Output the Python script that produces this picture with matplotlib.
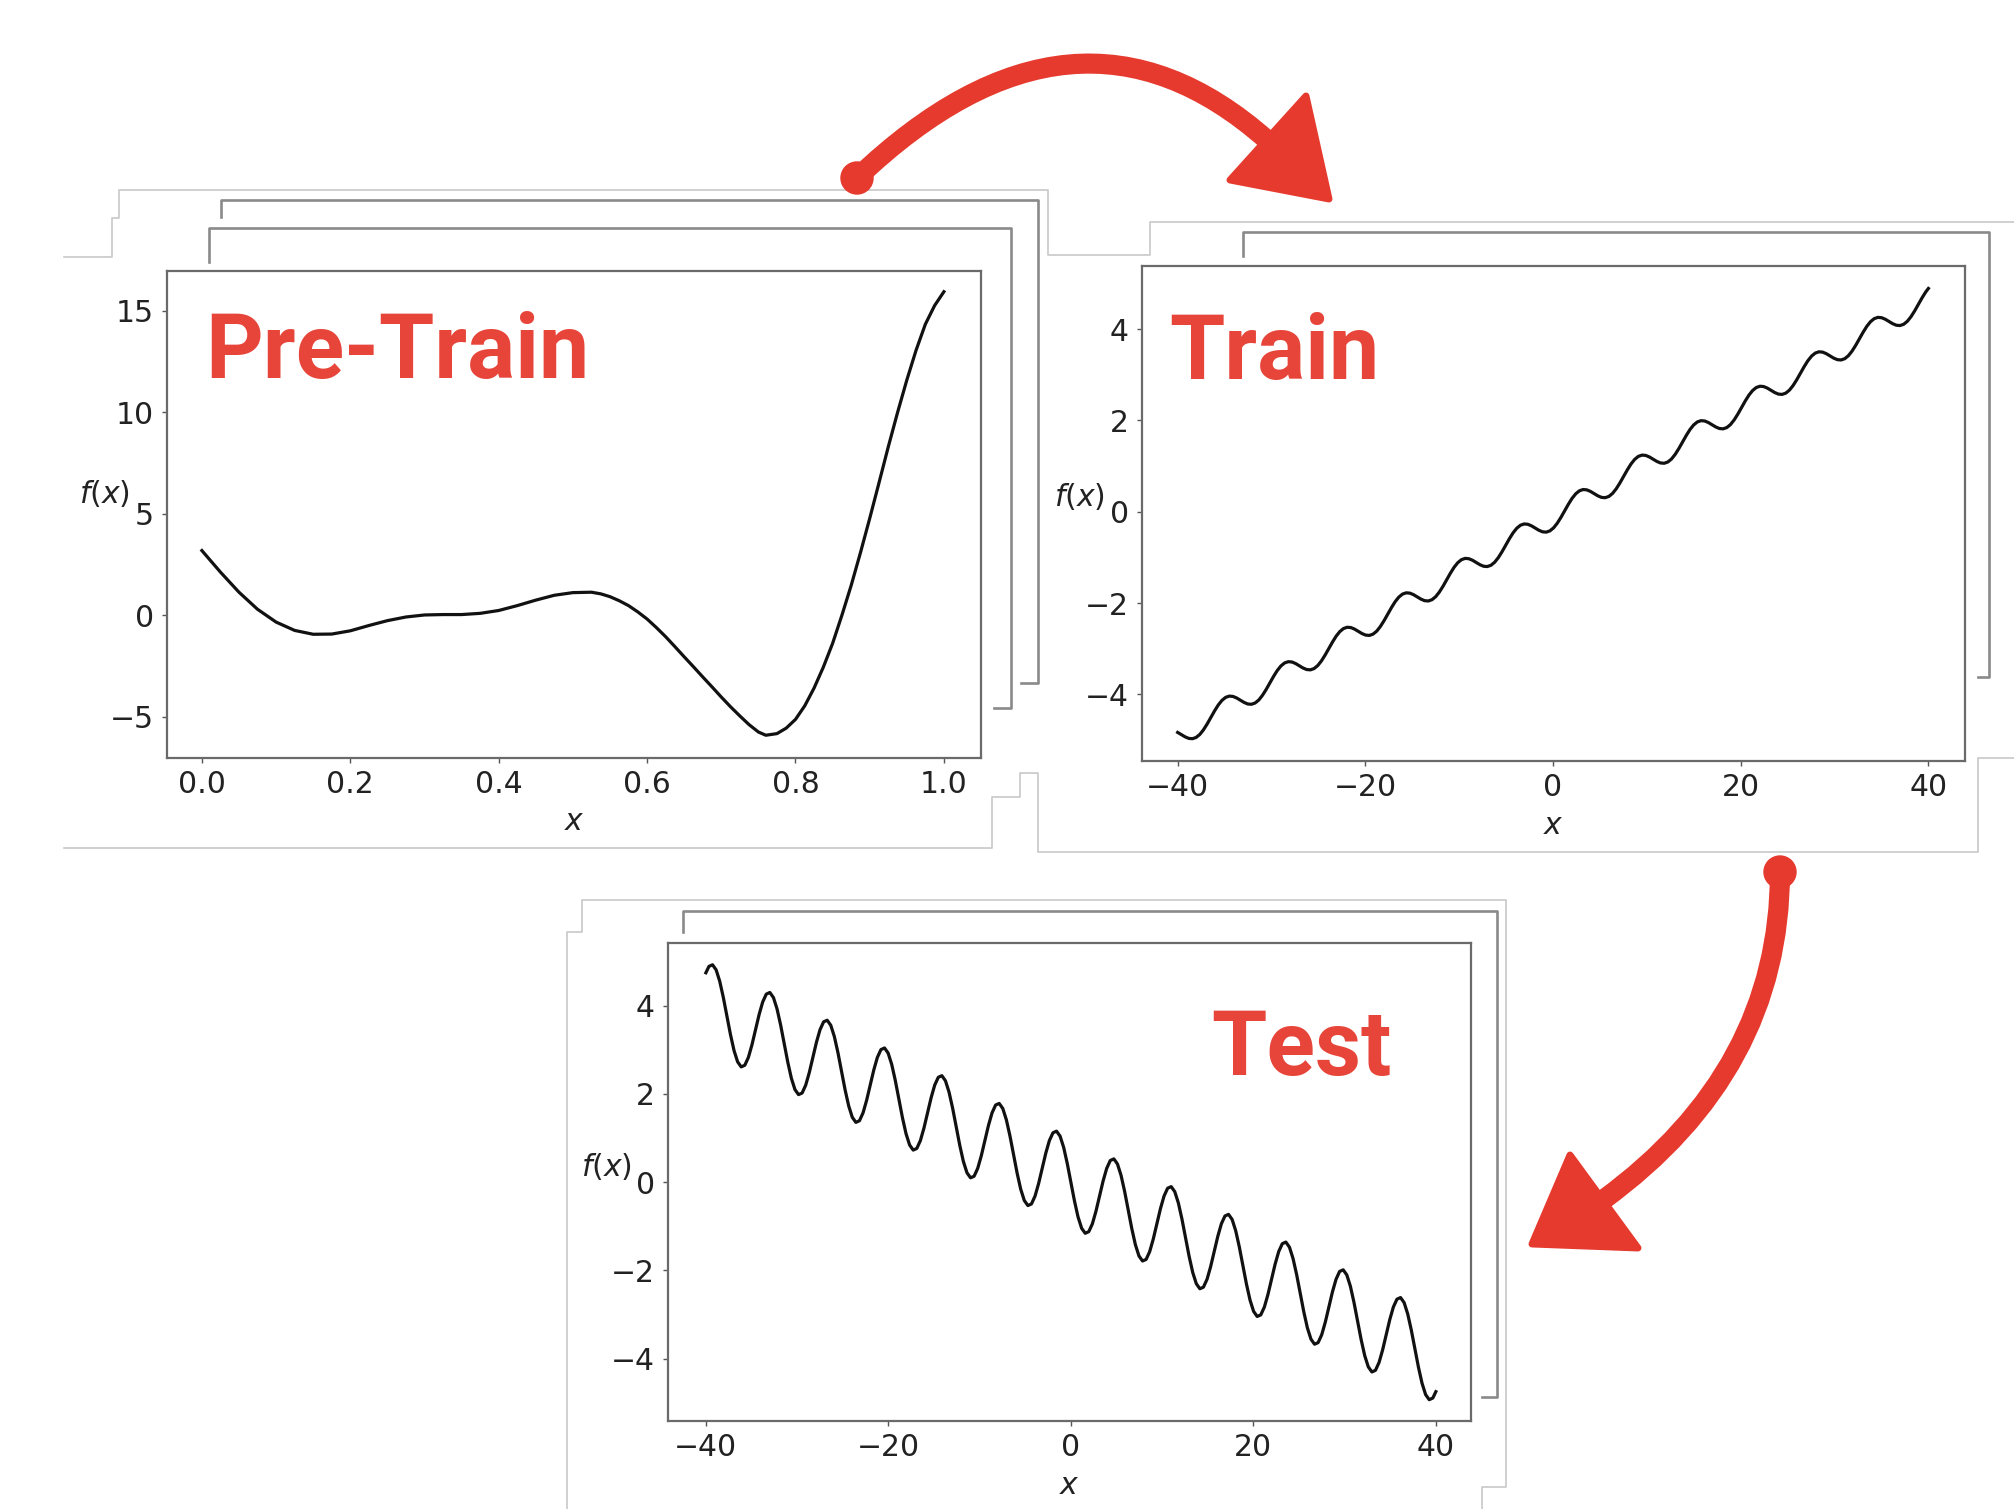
import matplotlib.pyplot as plt
from matplotlib.path import Path
from matplotlib.patches import PathPatch, Polygon, Circle

# キャンバス（ピクセル単位で配置を考える）
W, H = 2014, 1509
DPI = 100

# ---- データ ----
# Pre-Train
pre_x = [0.0, 0.025, 0.05, 0.075, 0.1, 0.125, 0.15, 0.175, 0.2, 0.225, 0.25, 0.275,
         0.3, 0.325, 0.35, 0.375, 0.4, 0.425, 0.45, 0.475, 0.5, 0.525, 0.5375, 0.55,
         0.5625, 0.575, 0.5875, 0.6, 0.6125, 0.625, 0.6375, 0.65, 0.6625, 0.675, 0.6875,
         0.7, 0.7125, 0.725, 0.7375, 0.75, 0.76, 0.775, 0.7875, 0.8, 0.8125, 0.825,
         0.8375, 0.85, 0.8625, 0.875, 0.8875, 0.9, 0.9125, 0.925, 0.9375, 0.95,
         0.9625, 0.975, 0.9875, 1.0]
pre_y = [3.19, 2.13, 1.14, 0.30, -0.33, -0.74, -0.93, -0.92, -0.76, -0.50, -0.26, -0.08,
         0.02, 0.04, 0.04, 0.10, 0.24, 0.48, 0.75, 0.99, 1.12, 1.14, 1.06, 0.92,
         0.72, 0.48, 0.17, -0.18, -0.60, -1.05, -1.54, -2.04, -2.53, -3.03, -3.52,
         -4.02, -4.50, -4.95, -5.38, -5.74, -5.90, -5.82, -5.55, -5.12, -4.45, -3.58,
         -2.55, -1.38, 0.0, 1.47, 3.08, 4.77, 6.52, 8.29, 9.98, 11.58,
         13.05, 14.33, 15.25, 15.93]

# Train
train_x = [-40.0, -39.602, -39.209, -38.817, -38.424, -38.032, -37.639, -37.246, -36.853, -36.461,
           -36.068, -35.675, -35.282, -34.890, -34.497, -34.105, -33.712, -33.319, -32.926, -32.534,
           -32.141, -31.748, -31.355, -30.963, -30.570, -30.178, -29.785, -29.392, -28.999, -28.607,
           -28.214, -27.821, -27.428, -27.036, -26.643, -26.251, -25.858, -25.465, -25.072, -24.680,
           -24.287, -23.894, -23.501, -23.109, -22.716, -22.324, -21.931, -21.538, -21.145, -20.753,
           -20.360, -19.967, -19.574, -19.182, -18.789, -18.397, -18.004, -17.611, -17.218, -16.826,
           -16.433, -16.040, -15.647, -15.255, -14.862, -14.470, -14.077, -13.684, -13.291, -12.899,
           -12.506, -12.113, -11.720, -11.328, -10.935, -10.543, -10.150, -9.757, -9.364, -8.972,
           -8.579, -8.186, -7.793, -7.401, -7.008, -6.616, -6.223, -5.830, -5.437, -5.045,
           -4.652, -4.259, -3.866, -3.474, -3.081, -2.689, -2.296, -1.903, -1.510, -1.118,
           -0.725, -0.332, 0.061, 0.453, 0.846, 1.238, 1.631, 2.024, 2.417, 2.809,
           3.202, 3.595, 3.988, 4.380, 4.773, 5.165, 5.558, 5.951, 6.344, 6.736,
           7.129, 7.522, 7.915, 8.307, 8.700, 9.092, 9.485, 9.878, 10.271, 10.663,
           11.056, 11.449, 11.842, 12.234, 12.627, 13.019, 13.412, 13.805, 14.198, 14.590,
           14.983, 15.376, 15.769, 16.161, 16.554, 16.946, 17.339, 17.732, 18.125, 18.517,
           18.910, 19.303, 19.696, 20.088, 20.481, 20.873, 21.266, 21.659, 22.052, 22.444,
           22.837, 23.230, 23.623, 24.015, 24.408, 24.800, 25.193, 25.586, 25.979, 26.371,
           26.764, 27.157, 27.550, 27.942, 28.335, 28.727, 29.120, 29.513, 29.906, 30.298,
           30.691, 31.084, 31.477, 31.869, 32.262, 32.654, 33.047, 33.440, 33.833, 34.225,
           34.618, 35.011, 35.404, 35.796, 36.189, 36.581, 36.974, 37.367, 37.760, 38.152,
           38.545, 38.938, 39.331, 39.723, 40.0]
train_y = [-4.834, -4.882, -4.931, -4.965, -4.972, -4.944, -4.878, -4.776, -4.648, -4.505,
           -4.363, -4.234, -4.133, -4.067, -4.039, -4.046, -4.080, -4.128, -4.177, -4.211,
           -4.218, -4.190, -4.124, -4.022, -3.894, -3.751, -3.609, -3.480, -3.379, -3.313,
           -3.285, -3.292, -3.326, -3.374, -3.423, -3.457, -3.464, -3.436, -3.370, -3.268,
           -3.140, -2.997, -2.855, -2.726, -2.625, -2.559, -2.531, -2.538, -2.572, -2.620,
           -2.669, -2.703, -2.710, -2.682, -2.616, -2.514, -2.386, -2.243, -2.101, -1.972,
           -1.871, -1.805, -1.777, -1.784, -1.818, -1.866, -1.915, -1.949, -1.956, -1.928,
           -1.862, -1.760, -1.632, -1.489, -1.347, -1.218, -1.117, -1.051, -1.023, -1.030,
           -1.064, -1.112, -1.161, -1.195, -1.202, -1.174, -1.108, -1.006, -0.878, -0.735,
           -0.593, -0.464, -0.363, -0.297, -0.269, -0.276, -0.310, -0.358, -0.407, -0.441,
           -0.448, -0.420, -0.354, -0.252, -0.124, 0.019, 0.161, 0.290, 0.391, 0.457,
           0.485, 0.478, 0.444, 0.396, 0.347, 0.313, 0.306, 0.334, 0.400, 0.502,
           0.630, 0.773, 0.915, 1.044, 1.145, 1.211, 1.239, 1.232, 1.198, 1.150,
           1.101, 1.067, 1.060, 1.088, 1.154, 1.256, 1.384, 1.527, 1.669, 1.798,
           1.899, 1.965, 1.993, 1.986, 1.952, 1.904, 1.855, 1.821, 1.814, 1.842,
           1.908, 2.010, 2.138, 2.281, 2.423, 2.552, 2.653, 2.719, 2.747, 2.740,
           2.706, 2.658, 2.609, 2.575, 2.568, 2.596, 2.662, 2.764, 2.892, 3.035,
           3.177, 3.306, 3.407, 3.473, 3.501, 3.494, 3.460, 3.412, 3.363, 3.329,
           3.322, 3.350, 3.416, 3.518, 3.646, 3.789, 3.931, 4.060, 4.161, 4.227,
           4.255, 4.248, 4.214, 4.166, 4.117, 4.083, 4.076, 4.104, 4.170, 4.272,
           4.400, 4.543, 4.685, 4.814, 4.888]

# Test
test_x = [-40.0,
          -39.663, -39.270, -38.877, -38.485, -38.092, -37.699, -37.306, -36.914, -36.521, -36.128,
          -35.736, -35.343, -34.950, -34.558, -34.165, -33.772, -33.379, -32.987, -32.594, -32.201,
          -31.809, -31.416, -31.023, -30.631, -30.238, -29.845, -29.452, -29.060, -28.667, -28.274,
          -27.882, -27.489, -27.096, -26.704, -26.311, -25.918, -25.525, -25.133, -24.740, -24.347,
          -23.955, -23.562, -23.169, -22.777, -22.384, -21.991, -21.598, -21.206, -20.813, -20.420,
          -20.028, -19.635, -19.242, -18.850, -18.457, -18.064, -17.671, -17.279, -16.886, -16.493,
          -16.101, -15.708, -15.315, -14.923, -14.530, -14.137, -13.744, -13.352, -12.959, -12.566,
          -12.174, -11.781, -11.388, -10.996, -10.603, -10.210, -9.817, -9.425, -9.032, -8.639,
          -8.247, -7.854, -7.461, -7.069, -6.676, -6.283, -5.890, -5.498, -5.105, -4.712,
          -4.320, -3.927, -3.534, -3.142, -2.749, -2.356, -1.963, -1.571, -1.178, -0.785,
          -0.393, 0.0, 0.393,
          0.785, 1.178, 1.571, 1.963, 2.356, 2.749, 3.142, 3.534, 3.927, 4.320,
          4.712, 5.105, 5.498, 5.890, 6.283, 6.676, 7.069, 7.461, 7.854, 8.247,
          8.639, 9.032, 9.425, 9.817, 10.210, 10.603, 10.996, 11.388, 11.781, 12.174,
          12.566, 12.959, 13.352, 13.744, 14.137, 14.530, 14.923, 15.315, 15.708, 16.101,
          16.493, 16.886, 17.279, 17.671, 18.064, 18.457, 18.850, 19.242, 19.635, 20.028,
          20.420, 20.813, 21.206, 21.598, 21.991, 22.384, 22.777, 23.169, 23.562, 23.955,
          24.347, 24.740, 25.133, 25.525, 25.918, 26.311, 26.704, 27.096, 27.489, 27.882,
          28.274, 28.667, 29.060, 29.452, 29.845, 30.238, 30.631, 31.023, 31.416, 31.809,
          32.201, 32.594, 32.987, 33.379, 33.772, 34.165, 34.558, 34.950, 35.343, 35.736,
          36.128, 36.521, 36.914, 37.306, 37.699, 38.092, 38.485, 38.877, 39.270, 39.663,
          40.0]
test_y = [4.745,
          4.890, 4.927, 4.812, 4.556, 4.192, 3.770, 3.348, 2.984, 2.728, 2.613,
          2.650, 2.827, 3.112, 3.456, 3.799, 4.084, 4.262, 4.299, 4.183, 3.927,
          3.564, 3.142, 2.720, 2.356, 2.100, 1.985, 2.021, 2.199, 2.484, 2.827,
          3.171, 3.456, 3.634, 3.670, 3.555, 3.299, 2.935, 2.513, 2.091, 1.728,
          1.472, 1.356, 1.393, 1.571, 1.856, 2.199, 2.543, 2.828, 3.005, 3.042,
          2.927, 2.671, 2.307, 1.885, 1.463, 1.099, 0.843, 0.728, 0.765, 0.942,
          1.227, 1.571, 1.914, 2.199, 2.377, 2.414, 2.298, 2.042, 1.679, 1.257,
          0.835, 0.471, 0.215, 0.100, 0.136, 0.314, 0.599, 0.943, 1.286, 1.571,
          1.749, 1.785, 1.670, 1.414, 1.050, 0.628, 0.206, -0.157, -0.413, -0.529,
          -0.492, -0.314, -0.029, 0.314, 0.658, 0.943, 1.120, 1.157, 1.042, 0.786,
          0.422, 0.0, -0.422,
          -0.786, -1.042, -1.157, -1.120, -0.943, -0.658, -0.314, 0.029, 0.314, 0.492,
          0.529, 0.413, 0.157, -0.206, -0.628, -1.050, -1.414, -1.670, -1.785, -1.749,
          -1.571, -1.286, -0.943, -0.599, -0.314, -0.136, -0.100, -0.215, -0.471, -0.835,
          -1.257, -1.679, -2.042, -2.298, -2.414, -2.377, -2.199, -1.914, -1.571, -1.227,
          -0.942, -0.765, -0.728, -0.843, -1.099, -1.463, -1.885, -2.307, -2.671, -2.927,
          -3.042, -3.005, -2.828, -2.543, -2.199, -1.856, -1.571, -1.393, -1.356, -1.472,
          -1.728, -2.091, -2.513, -2.935, -3.299, -3.555, -3.670, -3.634, -3.456, -3.171,
          -2.827, -2.484, -2.199, -2.021, -1.985, -2.100, -2.356, -2.720, -3.142, -3.564,
          -3.927, -4.183, -4.299, -4.262, -4.084, -3.799, -3.456, -3.112, -2.827, -2.650,
          -2.613, -2.728, -2.984, -3.348, -3.770, -4.192, -4.556, -4.812, -4.927, -4.890,
          -4.745]

pre_xticks = [0.0, 0.2, 0.4, 0.6, 0.8, 1.0]
pre_yticks = [-5, 0, 5, 10, 15]
wide_xticks = [-40, -20, 0, 20, 40]
wide_yticks = [-4, -2, 0, 2, 4]

panel_titles = ["Pre-Train", "Train", "Test"]

# ---- 色など ----
RED_TEXT = "#E8453A"
RED_ARROW = "#E63A2E"
LIGHT = "#c8c8c8"
DARK = "#8a8a8a"
SPINE = "#6a6a6a"
TICK_FS = 21.5


def rect(l, t, r, b):
    # ピクセル座標 -> figure座標
    return [l / W, 1 - b / H, (r - l) / W, (b - t) / H]


def minus(v):
    return str(v).replace("-", "\u2212")


fig = plt.figure(figsize=(W / DPI, H / DPI), dpi=DPI)
fig.patch.set_facecolor("white")

# 背景の枠線用（ピクセル座標）
bg = fig.add_axes([0, 0, 1, 1], zorder=0)
bg.set_xlim(0, W)
bg.set_ylim(H, 0)
bg.axis("off")

light_paths = [
    [(64, 257), (112, 257), (112, 218), (119, 218), (119, 190), (1048, 190), (1048, 255),
     (1150, 255), (1150, 222), (2014, 222)],
    [(64, 848), (992, 848), (992, 797), (1020, 797), (1020, 773), (1038, 773), (1038, 852),
     (1978, 852), (1978, 758), (2014, 758)],
    [(567, 1509), (567, 932), (582, 932), (582, 900), (1506, 900), (1506, 1487),
     (1482, 1487), (1482, 1509)],
]
dark_paths = [
    [(221, 217), (221, 200), (1038, 200), (1038, 683), (1021, 683)],
    [(209, 262), (209, 228), (1011, 228), (1011, 708), (994, 708)],
    [(1243, 256), (1243, 232), (1989, 232), (1989, 677), (1978, 677)],
    [(683, 932), (683, 911), (1497, 911), (1497, 1397), (1482, 1397)],
]
for p in light_paths:
    bg.plot([q[0] for q in p], [q[1] for q in p], color=LIGHT, lw=1.2)
for p in dark_paths:
    bg.plot([q[0] for q in p], [q[1] for q in p], color=DARK, lw=1.9)


def make_panel(box, xs, ys, xlim, ylim, xticks, yticks, xtl, lab_y, xlab_y):
    ax = fig.add_axes(rect(*box), zorder=2)
    ax.set_facecolor("white")
    ax.plot(xs, ys, color="#111111", lw=2.3)
    ax.set_xlim(*xlim)
    ax.set_ylim(*ylim)
    ax.set_xticks(xticks)
    ax.set_xticklabels(xtl)
    ax.set_yticks(yticks)
    ax.set_yticklabels([minus(v) for v in yticks])
    for s in ax.spines.values():
        s.set_color(SPINE)
        s.set_linewidth(1.6)
    ax.tick_params(direction="out", length=3.5, width=1.0, color="#555555",
                   labelsize=TICK_FS, labelcolor="#222222")
    ax.tick_params(axis="x", pad=5)
    ax.tick_params(axis="y", pad=6)
    ax.set_ylabel("$f(x)$", rotation=0, fontsize=TICK_FS, color="#222222",
                  ha="right", va="center")
    ax.yaxis.set_label_coords(-0.0455, lab_y)
    ax.set_xlabel("$x$", fontsize=TICK_FS, color="#222222", va="center")
    ax.xaxis.set_label_coords(0.5, xlab_y)
    return ax


make_panel((167, 271, 981, 758), pre_x, pre_y, (-0.047, 1.05), (-7.02, 16.95),
           pre_xticks, pre_yticks, [f"{v:.1f}" for v in pre_xticks], 0.544, -0.131)
wide_labels = [minus(v) for v in wide_xticks]
make_panel((1142, 266, 1965, 761), train_x, train_y, (-43.8, 43.9), (-5.46, 5.38),
           wide_xticks, wide_yticks, wide_labels, 0.535, -0.130)
make_panel((668, 943, 1471, 1421), test_x, test_y, (-44.15, 43.85), (-5.41, 5.42),
           wide_xticks, wide_yticks, wide_labels, 0.533, -0.135)

# 赤い見出し
title_pos = [(205, 378), (1169, 379), (1211, 1075)]
for t, (tx, ty) in zip(panel_titles, title_pos):
    fig.text(tx / W, 1 - ty / H, t, color=RED_TEXT, fontsize=64.5, fontweight="bold",
             family=["Roboto", "DejaVu Sans"], ha="left", va="baseline", zorder=10)

# 矢印（手描き風）
fg = fig.add_axes([0, 0, 1, 1], zorder=5)
fg.set_xlim(0, W)
fg.set_ylim(H, 0)
fg.axis("off")
fg.patch.set_alpha(0)

arrows = [
    {"start": (857, 178), "ctrl": (1075, -30), "end": (1267, 140),
     "head": [(1306, 96), (1230, 180), (1329, 199)]},
    {"start": (1780, 872), "ctrl": (1780, 1071), "end": (1603, 1200),
     "head": [(1570, 1155), (1532, 1244), (1638, 1248)]},
]
for a in arrows:
    path = Path([a["start"], a["ctrl"], a["end"]], [Path.MOVETO, Path.CURVE3, Path.CURVE3])
    fg.add_patch(PathPatch(path, fill=False, edgecolor=RED_ARROW, lw=14.5, capstyle="round"))
    fg.add_patch(Circle(a["start"], 16, color=RED_ARROW))
    fg.add_patch(Polygon(a["head"], closed=True, facecolor=RED_ARROW, edgecolor=RED_ARROW,
                         lw=5, joinstyle="round"))

fig.savefig("out.png", dpi=DPI, facecolor="white")
